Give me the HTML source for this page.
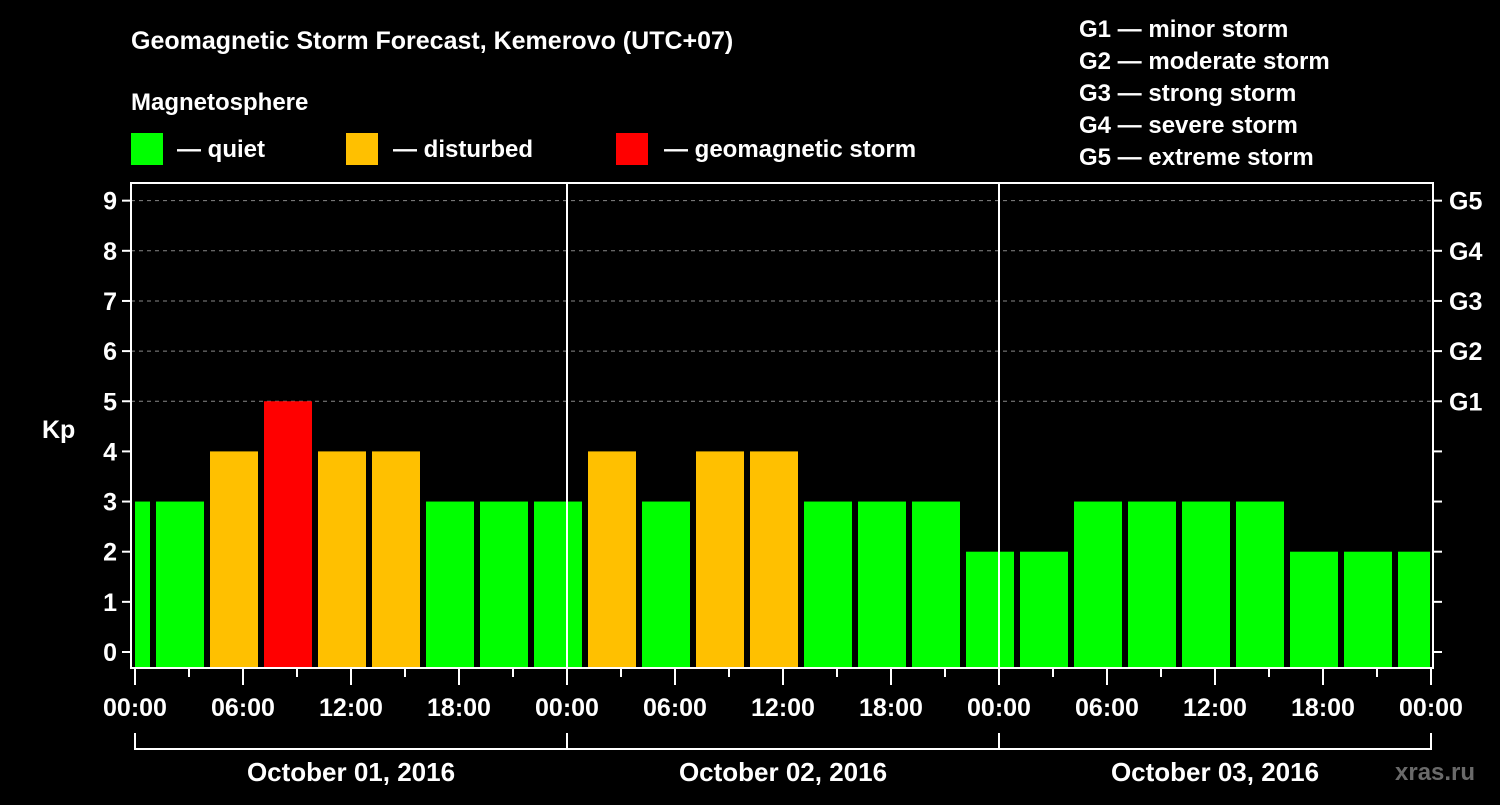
<!DOCTYPE html>
<html><head><meta charset="utf-8"><style>
body{margin:0;background:#000;width:1500px;height:800px;overflow:hidden}
svg text{font-family:"Liberation Sans",Arial,sans-serif;font-weight:bold;fill:#fff}
</style></head><body>
<svg width="1500" height="800" viewBox="0 0 1500 800" id="chart">
<text x="131" y="49" font-size="25">Geomagnetic Storm Forecast, Kemerovo (UTC+07)</text>
<text x="131" y="110" font-size="24">Magnetosphere</text>
<g><rect x="131" y="133" width="32" height="32" fill="#00ff00"/><text x="177" y="157" font-size="24">— quiet</text></g>
<g><rect x="346" y="133" width="32" height="32" fill="#ffc000"/><text x="393" y="157" font-size="24">— disturbed</text></g>
<g><rect x="616" y="133" width="32" height="32" fill="#ff0000"/><text x="664" y="157" font-size="24">— geomagnetic storm</text></g>
<g font-size="24">
<text x="1079" y="37">G1 — minor storm</text>
<text x="1079" y="69">G2 — moderate storm</text>
<text x="1079" y="101">G3 — strong storm</text>
<text x="1079" y="133">G4 — severe storm</text>
<text x="1079" y="165">G5 — extreme storm</text>
</g>
<text x="42" y="438" font-size="25">Kp</text>
<g id="plot"></g>
<text x="1395" y="780" font-size="24" fill="#666" style="fill:#6a6a6a">xras.ru</text>
</svg>
<script>
const kpValues=[3,3,4,5,4,4,3,3,3,4,3,4,4,3,3,3,2,2,3,3,3,3,2,2,2];
const yTicks=[0,1,2,3,4,5,6,7,8,9];
const gLabels=["G1","G2","G3","G4","G5"];
const xTickLabels=["00:00","06:00","12:00","18:00","00:00","06:00","12:00","18:00","00:00","06:00","12:00","18:00","00:00"];
const dayLabels=["October 01, 2016","October 02, 2016","October 03, 2016"];
const NS="http://www.w3.org/2000/svg";
const g=document.getElementById('plot');
const X0=135,PXH=18,L=131,R=1433,T=183,B=668;
const xs=h=>X0+h*PXH;
const ys=v=>652-v*50.15;
function mk(t,a){const e=document.createElementNS(NS,t);for(const k in a)e.setAttribute(k,a[k]);g.appendChild(e);return e;}
function col(v){return v>=5?"#ff0000":v>=4?"#ffc000":"#00ff00";}
// grid
yTicks.forEach(v=>{
 if(v>=5){const l=mk('line',{x1:L,x2:R,y1:ys(v),y2:ys(v),stroke:'#888','stroke-dasharray':'4,4','stroke-width':1});
 
 }
 const t=mk('line',{x1:L-9,x2:L,y1:ys(v),y2:ys(v),stroke:'#fff','stroke-width':2});
 
 
 const t2=mk('line',{x1:R,x2:R+9,y1:ys(v),y2:ys(v),stroke:'#fff','stroke-width':2});
 
 
 const tx=mk('text',{x:L-14,y:ys(v)+9,'text-anchor':'end','font-size':25});
 tx.textContent=v;
 
 
});
gLabels.forEach((s,i)=>{
 const tx=mk('text',{x:R+16,y:ys(i+5)+9,'font-size':25});
 tx.textContent=s;
 
 
});
// bars: 3h intervals starting at local -2h (UTC+7)
kpValues.forEach((v,i)=>{
 let h0=-2+3*i,h1=h0+3;
 let x1=xs(h0)+3,x2=xs(h1)-3;
 x1=Math.max(x1,X0);x2=Math.min(x2,R-3);
 if(x2<=x1)return;
 const r=mk('rect',{x:x1,y:ys(v),width:x2-x1,height:B-1-ys(v),fill:col(v)});
 
 
});
// day separators
[24,48].forEach(h=>{const l=mk('line',{x1:xs(h),x2:xs(h),y1:T,y2:B,stroke:'#fff','stroke-width':2});
 
 });
const fr=mk('rect',{x:L,y:T,width:R-L,height:B-T,fill:'none',stroke:'#fff','stroke-width':2});


for(let h=0;h<=72;h+=3){
 const major=h%6===0;
 const l=mk('line',{x1:xs(h),x2:xs(h),y1:B,y2:B+(major?17:9),stroke:'#fff','stroke-width':2});
 
 
}
xTickLabels.forEach((s,i)=>{
 const tx=mk('text',{x:xs(i*6),y:716,'text-anchor':'middle','font-size':25});
 tx.textContent=s;
 
 
});
dayLabels.forEach((s,i)=>{
 const p=mk('path',{d:`M${xs(i*24)},733V749H${xs(i*24+24)}V733`,fill:'none',stroke:'#fff','stroke-width':2});
 
 
 const tx=mk('text',{x:xs(i*24+12),y:781,'text-anchor':'middle','font-size':26});
 tx.textContent=s;
 
 
});
</script>
</body></html>
